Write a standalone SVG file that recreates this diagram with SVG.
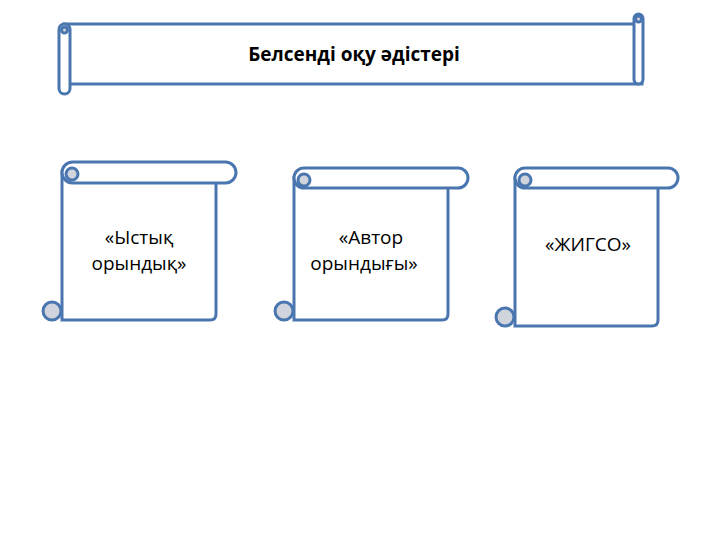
<svg xmlns="http://www.w3.org/2000/svg" width="720" height="540" viewBox="0 0 720 540">
<style>
.s{fill:#fff;stroke:#4a76b0;stroke-width:3}
.c{fill:#d0d4dc;stroke:#4a76b0;stroke-width:3}
.t{font-family:"Open Sans","Liberation Sans",sans-serif;font-size:19px;fill:#000;text-anchor:middle}
</style>
<rect width="720" height="540" fill="#fff"/>
<g id="title">
<rect class="s" x="64" y="24" width="578" height="60"/>
<rect class="s" x="634" y="14" width="9" height="70" rx="4.5"/>
<rect class="s" x="59" y="24" width="11" height="70" rx="5.5"/>
<circle class="c" cx="64.5" cy="30" r="3"/>
<circle class="c" cx="638.5" cy="19" r="3"/>
<text class="t" x="354" y="61" font-weight="bold" font-size="18">Белсенді оқу әдістері</text>
</g>
<g id="n1">
<path class="s" d="M62,172 V320 H210 Q216,320 216,314 V172 Z"/>
<rect class="s" x="62" y="162" width="174" height="21" rx="10.5"/>
<circle class="c" cx="72" cy="174" r="6"/>
<circle class="c" cx="52" cy="311" r="9"/>
<text class="t" x="139" y="244">«Ыстық</text>
<text class="t" x="139" y="270">орындық»</text>
</g>
<g id="n2">
<path class="s" d="M294,178 V320 H442 Q448,320 448,314 V178 Z"/>
<rect class="s" x="294" y="168" width="174" height="20" rx="10"/>
<circle class="c" cx="304" cy="180" r="6"/>
<circle class="c" cx="284" cy="311" r="9"/>
<text class="t" x="371" y="244">«Автор</text>
<text class="t" x="364" y="270">орындығы»</text>
</g>
<g id="n3">
<path class="s" d="M515,178 V326 H652 Q658,326 658,320 V178 Z"/>
<rect class="s" x="515" y="168" width="163" height="20" rx="10"/>
<circle class="c" cx="525" cy="180" r="6"/>
<circle class="c" cx="505" cy="317" r="9"/>
<text class="t" x="588" y="251">«ЖИГСО»</text>
</g>
<g id="connectors"/>
</svg>
